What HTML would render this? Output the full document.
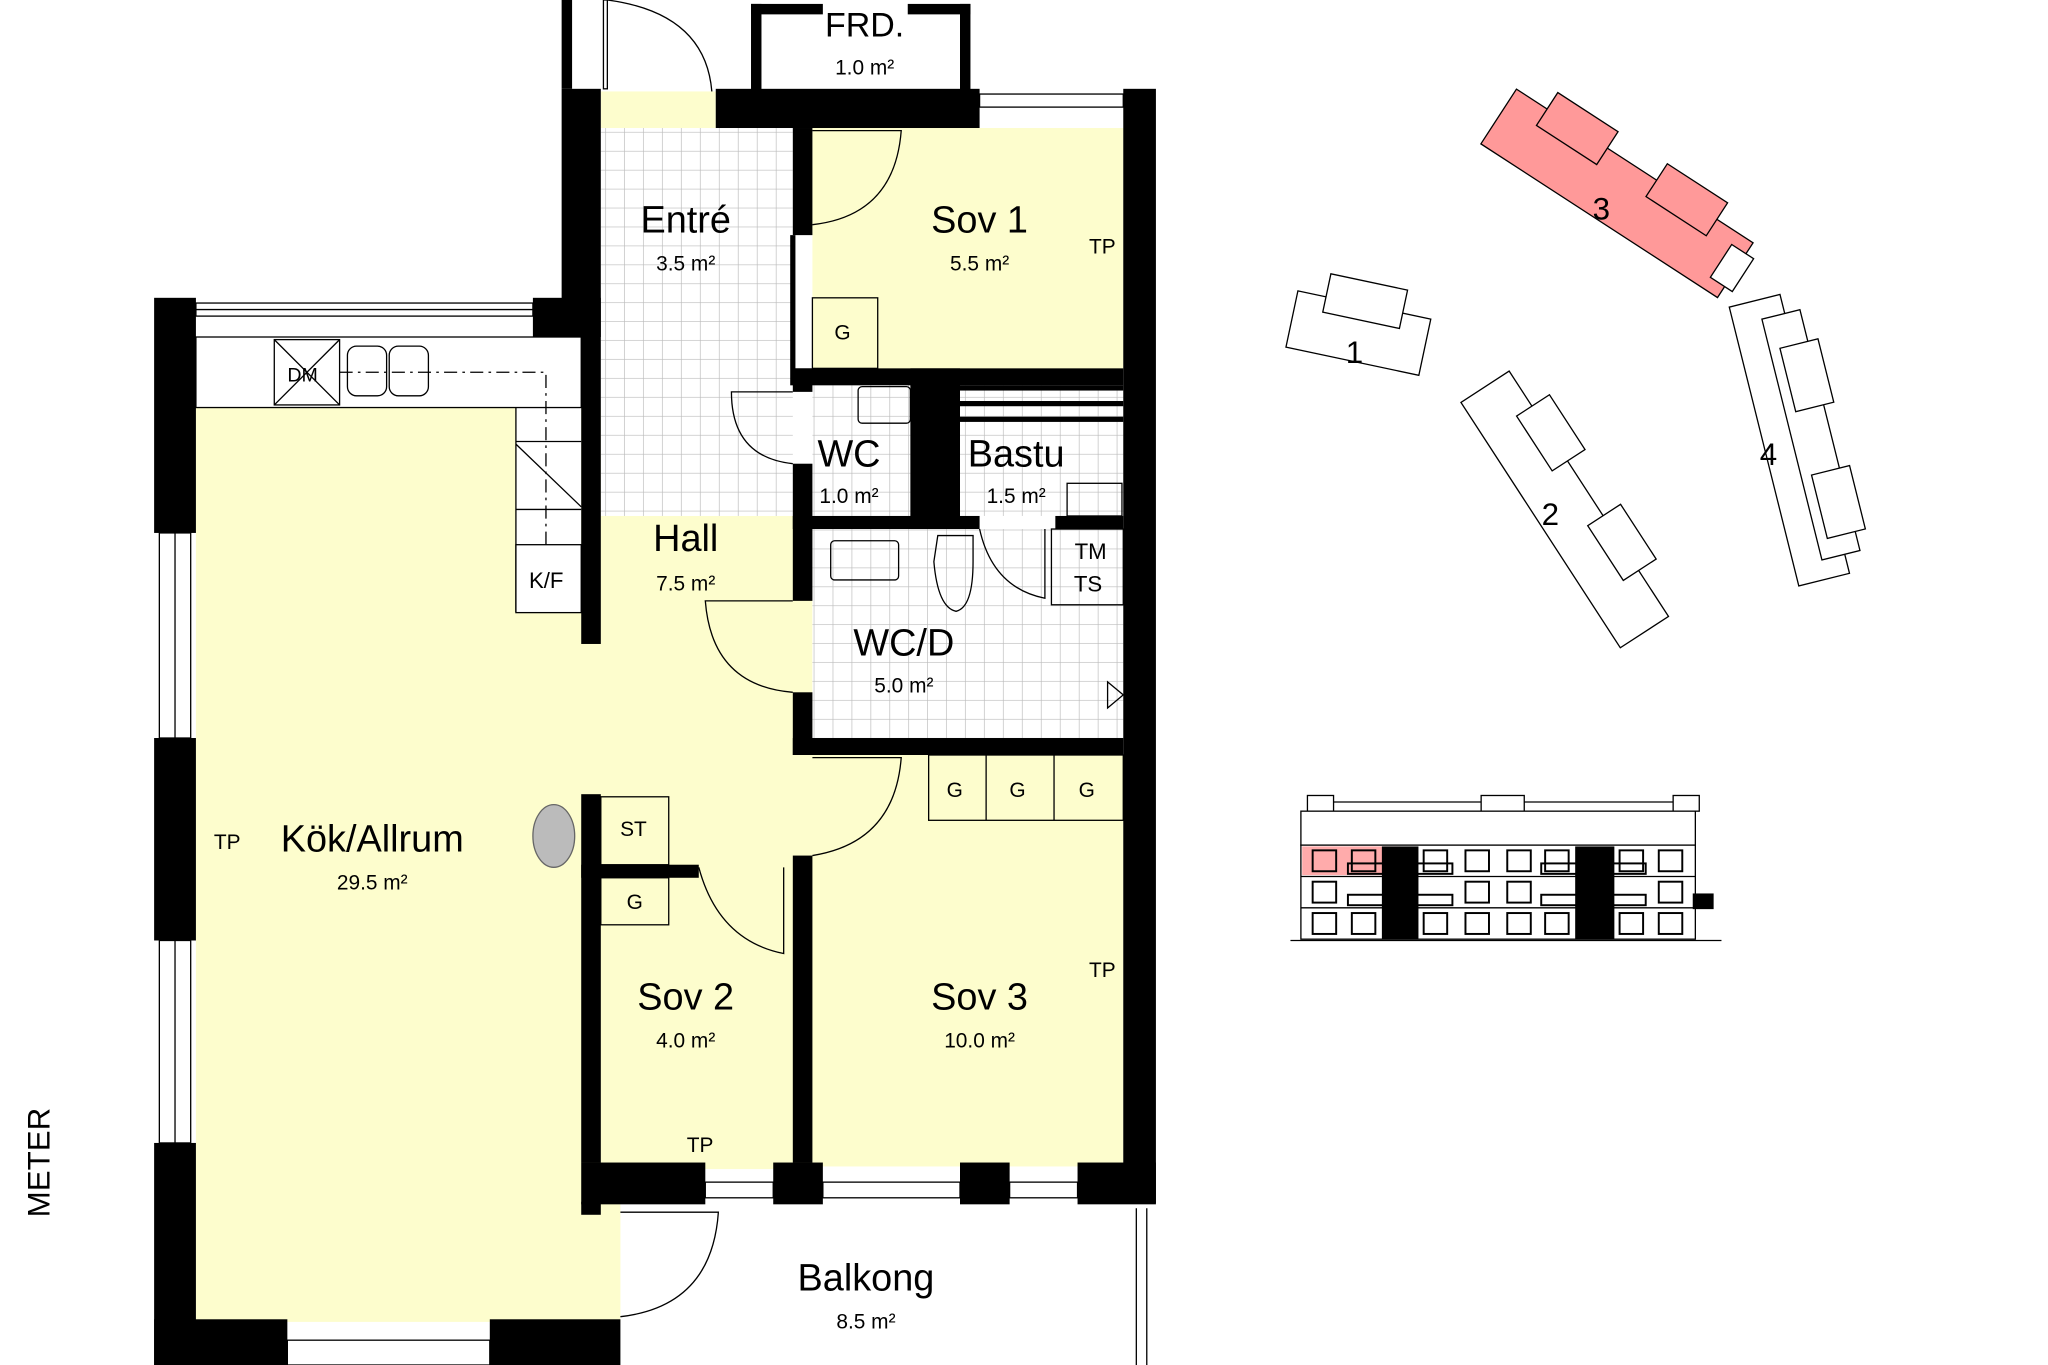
<!DOCTYPE html>
<html><head><meta charset="utf-8"><style>html,body{margin:0;padding:0;background:#fff}svg{display:block}text{font-family:"Liberation Sans",sans-serif;fill:#000}</style></head><body>
<svg width="2048" height="1365" viewBox="0 0 1568 1045" preserveAspectRatio="none" xmlns="http://www.w3.org/2000/svg">
<defs>
<pattern id="tile" width="14.5" height="14.5" patternUnits="userSpaceOnUse"><rect width="14.5" height="14.5" fill="#fff"/><path d="M14.5 0V14.5H0" fill="none" stroke="#bbb" stroke-width="1"/></pattern>
</defs>
<g fill="#fdfdcd">
<rect x="150" y="312" width="325" height="700"/>
<rect x="445" y="395" width="177" height="500"/>
<rect x="607" y="570" width="90" height="90"/>
<rect x="622" y="98" width="238" height="185"/>
<rect x="622" y="578" width="238" height="315"/>
<rect x="460" y="70" width="88" height="28"/>
</g>
<rect x="460" y="98" width="147" height="297" fill="url(#tile)"/>
<rect x="622" y="295" width="75" height="100" fill="url(#tile)"/>
<rect x="735" y="295" width="125" height="100" fill="url(#tile)"/>
<rect x="622" y="405" width="238" height="160" fill="url(#tile)"/>
<rect x="150" y="258" width="295" height="54" fill="#fff"/>
<rect x="395" y="258" width="50" height="210" fill="#fff"/>
<rect x="150" y="258" width="295" height="54" fill="none" stroke="#000"/>
<path d="M395 312V468H445" fill="none" stroke="#000"/>
<path d="M260 285H418V440" fill="none" stroke="#000" stroke-dasharray="10,4,2,4"/>
<rect x="210" y="260" width="50" height="50" fill="none" stroke="#000"/><path d="M210 260L260 310M260 260L210 310" stroke="#000"/>
<text x="220" y="292" font-size="15">DM</text>
<rect x="266" y="265" width="30" height="38" rx="7" fill="none" stroke="#000"/>
<rect x="298" y="265" width="30" height="38" rx="7" fill="none" stroke="#000"/>
<path d="M395 338H445M395 390H445M395 340L445 388" stroke="#000" fill="none"/>
<rect x="395" y="417" width="50" height="52" fill="#fff" stroke="#000"/>
<text x="405" y="450" font-size="17">K/F</text>
<ellipse cx="424" cy="640" rx="16" ry="24" fill="#bbb" stroke="#666"/>
<g fill="#000">
<rect x="118" y="228" width="32" height="180"/>
<rect x="118" y="565" width="32" height="155"/>
<rect x="118" y="875" width="32" height="170"/>
<rect x="408" y="228" width="52" height="30"/>
<rect x="430" y="68" width="30" height="190"/>
<rect x="445" y="258" width="15" height="235"/>
<rect x="430" y="0" width="8" height="68"/>
<rect x="548" y="68" width="202" height="30"/>
<rect x="860" y="68" width="25" height="853"/>
<rect x="575" y="3" width="8" height="70"/><rect x="735" y="3" width="8" height="70"/>
<rect x="575" y="3" width="55" height="8"/><rect x="695" y="3" width="48" height="8"/>
<rect x="445" y="890" width="95" height="32"/>
<rect x="592" y="890" width="38" height="32"/>
<rect x="735" y="890" width="38" height="32"/>
<rect x="825" y="890" width="60" height="32"/>
<rect x="118" y="1010" width="102" height="35"/>
<rect x="375" y="1010" width="100" height="35"/>
<rect x="445" y="920" width="15" height="10"/>
<rect x="607" y="98" width="15" height="82"/>
<rect x="605" y="180" width="4" height="115"/>
<rect x="607" y="282" width="253" height="13"/>
<rect x="607" y="282" width="15" height="18"/>
<rect x="607" y="355" width="15" height="105"/>
<rect x="607" y="530" width="15" height="48"/>
<rect x="607" y="565" width="253" height="13"/>
<rect x="697" y="282" width="38" height="123"/>
<rect x="607" y="395" width="143" height="10"/>
<rect x="808" y="395" width="52" height="10"/>
<rect x="607" y="655" width="15" height="235"/>
<rect x="445" y="608" width="15" height="282"/>
<rect x="445" y="662" width="90" height="10"/>
<rect x="735" y="295" width="125" height="4"/><rect x="735" y="307" width="125" height="4"/><rect x="735" y="319" width="125" height="4"/>
</g>
<g fill="none" stroke="#000" stroke-width="1">
<rect x="150" y="232" width="258" height="10"/><line x1="150" y1="237" x2="408" y2="237"/>
<rect x="122" y="408" width="24" height="157"/><line x1="134" y1="408" x2="134" y2="565"/>
<rect x="122" y="720" width="24" height="155"/><line x1="134" y1="720" x2="134" y2="875"/>
<rect x="220" y="1026" width="155" height="19"/>
<rect x="750" y="72" width="110" height="10"/>
<rect x="540" y="905" width="52" height="12"/><rect x="630" y="905" width="105" height="12"/><rect x="773" y="905" width="52" height="12"/>
<line x1="870" y1="925" x2="870" y2="1045"/><line x1="878" y1="925" x2="878" y2="1045"/>
<rect x="462" y="0" width="3" height="68"/>
<path d="M465 0Q540 10 545 70"/>
<path d="M622 100H690Q685 165 622 172"/>
<path d="M607 300H560Q560 350 607 355"/>
<path d="M607 460H540Q545 525 607 530"/>
<path d="M622 580H690Q685 645 622 655"/>
<path d="M535 664Q550 720 600 730V664"/>
<path d="M475 928H550Q545 1000 475 1008"/>
<path d="M750 405Q760 450 800 458V405"/>
<rect x="622" y="228" width="50" height="54"/>
<rect x="460" y="610" width="52" height="52"/><rect x="460" y="672" width="52" height="36"/>
<rect x="711" y="578" width="149" height="50"/><line x1="755" y1="578" x2="755" y2="628"/><line x1="807" y1="578" x2="807" y2="628"/>
<rect x="805" y="405" width="55" height="58"/>
<rect x="817" y="370" width="42" height="25"/>
<rect x="657" y="296" width="40" height="28" rx="3"/>
<rect x="636" y="414" width="52" height="30" rx="3"/>
<path d="M718 410H745V430Q745 465 732 468Q718 465 715 430Z"/>
<path d="M848 522L860 532L848 542Z"/>
</g>
<g text-anchor="middle">
<text x="662" y="28" font-size="26">FRD.</text><text x="662" y="57" font-size="16">1.0 m²</text>
<text x="525" y="178" font-size="29">Entré</text><text x="525" y="207" font-size="16">3.5 m²</text>
<text x="750" y="178" font-size="29">Sov 1</text><text x="750" y="207" font-size="16">5.5 m²</text>
<text x="650" y="357" font-size="29">WC</text><text x="650" y="385" font-size="16">1.0 m²</text>
<text x="778" y="357" font-size="29">Bastu</text><text x="778" y="385" font-size="16">1.5 m²</text>
<text x="525" y="422" font-size="29">Hall</text><text x="525" y="452" font-size="16">7.5 m²</text>
<text x="692" y="502" font-size="29">WC/D</text><text x="692" y="530" font-size="16">5.0 m²</text>
<text x="285" y="652" font-size="29">Kök/Allrum</text><text x="285" y="681" font-size="16">29.5 m²</text>
<text x="525" y="773" font-size="29">Sov 2</text><text x="525" y="802" font-size="16">4.0 m²</text>
<text x="750" y="773" font-size="29">Sov 3</text><text x="750" y="802" font-size="16">10.0 m²</text>
<text x="663" y="988" font-size="29">Balkong</text><text x="663" y="1017" font-size="16">8.5 m²</text>
<text x="844" y="194" font-size="16">TP</text><text x="844" y="748" font-size="16">TP</text>
<text x="174" y="650" font-size="16">TP</text><text x="536" y="882" font-size="16">TP</text>
<text x="645" y="260" font-size="16">G</text><text x="485" y="640" font-size="16">ST</text><text x="486" y="696" font-size="16">G</text>
<text x="731" y="610" font-size="16">G</text><text x="779" y="610" font-size="16">G</text><text x="832" y="610" font-size="16">G</text>
<text x="835" y="428" font-size="17">TM</text><text x="833" y="453" font-size="17">TS</text>
</g>
<text x="38" y="890" font-size="24" transform="rotate(-90 38 890)" text-anchor="middle">METER</text>
<g fill="#fff" stroke="#000" stroke-width="1">
<g transform="translate(1040,255) rotate(12)"><rect x="-52" y="-22" width="104" height="44"/><rect x="-30" y="-40" width="60" height="30"/></g>
<g transform="translate(1198,390) rotate(57)"><rect x="-112" y="-22" width="224" height="44"/><rect x="-80" y="-38" width="50" height="30"/><rect x="20" y="-38" width="50" height="30"/></g>
<g transform="translate(1370,337) rotate(76)"><rect x="-110" y="-20" width="220" height="40"/><rect x="-95" y="-32" width="190" height="30"/><rect x="-70" y="-40" width="50" height="30"/><rect x="30" y="-40" width="50" height="30"/></g>
<g transform="translate(1238,148) rotate(33)" fill="#f99"><rect x="-108" y="-25" width="216" height="50"/><rect x="-80" y="-40" width="55" height="30"/><rect x="20" y="-40" width="55" height="30"/><rect x="95" y="-15" width="20" height="30" fill="#fff"/></g>
</g>
<g font-size="24" text-anchor="middle"><text x="1037" y="278">1</text><text x="1187" y="402">2</text><text x="1226" y="168">3</text><text x="1354" y="356">4</text></g>
<g fill="#fff" stroke="#000" stroke-width="1">
<rect x="1001" y="609" width="20" height="12"/><rect x="1134" y="609" width="33" height="12"/><rect x="1281" y="609" width="20" height="12"/>
<line x1="1021" y1="614" x2="1134" y2="614"/><line x1="1167" y1="614" x2="1281" y2="614"/>
<rect x="996" y="621" width="302" height="26"/>
<rect x="996" y="647" width="302" height="72"/>
<line x1="996" y1="671" x2="1298" y2="671"/><line x1="996" y1="695" x2="1298" y2="695"/>
<line x1="988" y1="720" x2="1318" y2="720"/>
</g>
<rect x="997" y="648" width="75" height="22" fill="#f88" opacity="0.7"/>
<rect x="1058" y="648" width="28" height="71" fill="#000"/>
<rect x="1206" y="648" width="30" height="71" fill="#000"/>
<g fill="none" stroke="#000" stroke-width="1.5">
<rect x="1005" y="651" width="18" height="16"/><rect x="1005" y="675" width="18" height="16"/><rect x="1005" y="699" width="18" height="16"/>
<rect x="1122" y="651" width="18" height="16"/><rect x="1122" y="675" width="18" height="16"/><rect x="1122" y="699" width="18" height="16"/>
<rect x="1154" y="651" width="18" height="16"/><rect x="1154" y="675" width="18" height="16"/><rect x="1154" y="699" width="18" height="16"/>
<rect x="1270" y="651" width="18" height="16"/><rect x="1270" y="675" width="18" height="16"/><rect x="1270" y="699" width="18" height="16"/>
<rect x="1035" y="651" width="18" height="16"/><rect x="1090" y="651" width="18" height="16"/>
<rect x="1183" y="651" width="18" height="16"/><rect x="1240" y="651" width="18" height="16"/>
<rect x="1035" y="699" width="18" height="16"/><rect x="1090" y="699" width="18" height="16"/>
<rect x="1183" y="699" width="18" height="16"/><rect x="1240" y="699" width="18" height="16"/>
<rect x="1032" y="661" width="80" height="8"/><rect x="1032" y="685" width="80" height="8"/>
<rect x="1180" y="661" width="80" height="8"/><rect x="1180" y="685" width="80" height="8"/>
</g>
<rect x="1296" y="684" width="16" height="12" fill="#000"/>
</svg>
</body></html>
